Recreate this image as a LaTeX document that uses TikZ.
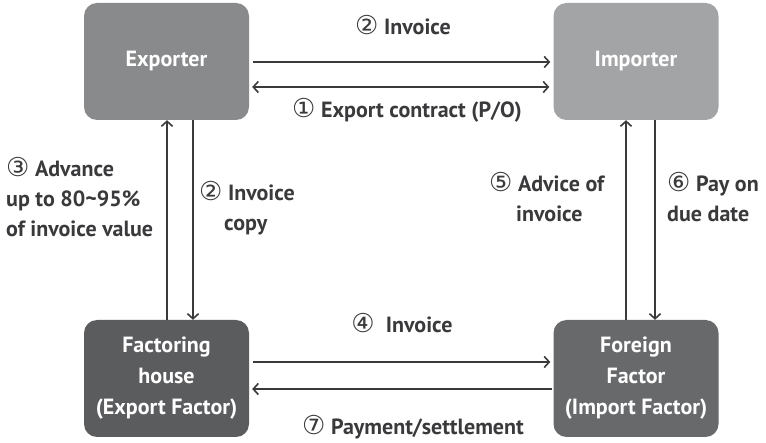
\documentclass[tikz,border=0pt]{standalone}
\usepackage{fontspec}
\setmainfont{PT Sans}
\newfontfamily\circfont{DejaVu Sans}
\usetikzlibrary{arrows.meta}
\definecolor{expcol}{HTML}{898A8C}
\definecolor{impcol}{HTML}{A3A4A6}
\definecolor{faccol}{HTML}{5B5C5E}
\definecolor{forcol}{HTML}{68696B}
\definecolor{inkcol}{HTML}{3A3A3C}
\newcommand{\cnum}[1]{{\circfont\mdseries\fontsize{26}{30}\selectfont #1}}
\begin{document}
\begin{tikzpicture}[x=1pt,y=-1pt,
  party/.style={rounded corners=13pt, minimum width=165pt, minimum height=117pt,
    text=white, font=\bfseries\fontsize{22}{31}\selectfont, align=center, inner sep=0pt},
  arr/.style={draw=inkcol, line width=1.8pt, -{Straight Barb[length=5pt,width=11pt,line width=1.6pt]}},
  dblarr/.style={arr, {Straight Barb[length=5pt,width=11pt,line width=1.6pt]}-{Straight Barb[length=5pt,width=11pt,line width=1.6pt]}},
  lbl/.style={text=inkcol, font=\bfseries\fontsize{22}{30}\selectfont, inner sep=0pt}]
\useasboundingbox (0,0) rectangle (766,443);
\fill[white] (0,0) rectangle (766,443);

% the four parties
\node[party, fill=expcol] (exp) at (166.5,61.5) {Exporter};
\node[party, fill=impcol] (imp) at (636,61.5) {Importer};
\node[party, fill=faccol] (fac) at (166.5,378.5) {Factoring\\house\\(Export Factor)};
\node[party, fill=forcol] (for) at (636,378.5) {Foreign\\Factor\\(Import Factor)};

% exporter <-> importer
\draw[arr] ([xshift=4pt]exp.east |- 0,62) -- ([xshift=-3pt]imp.west |- 0,62);
\draw[dblarr] ([xshift=3pt]exp.east |- 0,87) -- ([xshift=-4pt]imp.west |- 0,87);
\node[lbl, anchor=base] (l2a) at (403,35) {\cnum{②} Invoice};
\node[lbl, anchor=base] (l1) at (407,118) {\cnum{①} Export contract (P/O)};

% exporter <-> factoring house
\draw[arr] (fac.north -| 167,0) -- (exp.south -| 167,0);
\draw[arr] (exp.south -| 193,0) -- (fac.north -| 193,0);
\node[lbl, align=left, anchor=north west] (l3) at (6,157) {\cnum{③} Advance\\up to 80\textasciitilde95\%\\of invoice value};
\node[lbl, align=left, anchor=north west] (l2b) at (199,181) {\cnum{②} Invoice\\\hspace*{25pt}copy};

% importer <-> foreign factor
\draw[arr] (for.north -| 626,0) -- (imp.south -| 626,0);
\draw[arr] (imp.south -| 655,0) -- (for.north -| 655,0);
\node[lbl, align=left, anchor=north west] (l5) at (489,172) {\cnum{⑤} Advice of\\\hspace*{27pt}invoice};
\node[lbl, align=left, anchor=north west] (l6) at (667,172) {\cnum{⑥} Pay on\\due date};

% factoring house <-> foreign factor
\draw[arr] ([xshift=4pt]fac.east |- 0,362) -- ([xshift=-3pt]for.west |- 0,362);
\draw[arr] ([xshift=-1pt]for.west |- 0,389) -- ([xshift=3pt]fac.east |- 0,389);
\node[lbl, anchor=base] (l4) at (402,333) {\cnum{④}\ \ Invoice};
\node[lbl, anchor=base] (l7) at (413,435) {\cnum{⑦} Payment/settlement};
\end{tikzpicture}
\end{document}
